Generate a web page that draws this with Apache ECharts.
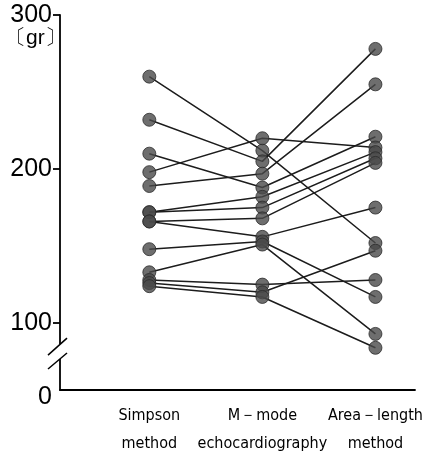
<!DOCTYPE html>
<html>
<head>
<meta charset="utf-8">
<script src="https://cdn.jsdelivr.net/npm/echarts@6/dist/echarts.min.js"></script>
<style>
  html, body { margin: 0; padding: 0; background: #fff; }
  #main { width: 439px; height: 464px; }
</style>
</head>
<body>
<div id="main"></div>
<script>
// methods on the x axis, one polyline per subject
const methods = ["Simpson\nmethod", "M\uFF0Dmode\nechocardiography", "Area\uFF0Dlength\nmethod"];
const yTicks = [100, 200, 300];

// LV mass (gr) per subject
const simpson    = [260, 232, 210, 198, 189, 172, 172, 166, 166, 148, 133, 128, 126, 124];
const mMode      = [212, 205, 188, 220, 197, 182, 175, 168, 156, 153, 151, 125, 120, 117];
const areaLength = [152, 278, 221, 214, 255, 211, 207, 204, 175, 117,  93, 128, 147,  84];

const yMin = 56.6; // bottom of the axis, shown as "0" (axis is broken)
const narrow = "'Liberation Sans Narrow', 'DejaVu Sans Condensed', sans-serif";
const plain = "'Liberation Sans', Arial, sans-serif";

let myChart = echarts.init(document.getElementById("main"));

let series = [];
let dots = [];
for (let i = 0; i < simpson.length; i++) {
  let pts = [[1, simpson[i]], [2, mMode[i]], [3, areaLength[i]]];
  series.push({
    type: "line",
    data: pts,
    symbol: "none",
    silent: true,
    lineStyle: { color: "#1c1c1c", width: 1.5 },
    z: 2,
  });
  dots = dots.concat(pts);
}
series.push({
  type: "scatter",
  data: dots,
  symbolSize: 13,
  itemStyle: { color: "#4a4a4a", borderColor: "#2b2b2b", borderWidth: 1 },
  z: 5,
});

let option = {
  animation: false,
  grid: { left: 60, right: 24, top: 15, bottom: 74 },
  xAxis: {
    type: "value",
    min: 0.21,
    max: 3.35,
    splitLine: { show: false },
    axisTick: { show: false },
    axisLine: { lineStyle: { color: "#000", width: 1.8 } },
    axisLabel: {
      customValues: [1, 2, 3],
      formatter: (v) => methods[Math.round(v) - 1],
      color: "#000",
      fontFamily: narrow,
      fontSize: 16,
      lineHeight: 28,
      margin: 12,
    },
  },
  yAxis: {
    type: "value",
    min: yMin,
    max: 300,
    splitLine: { show: false },
    axisLine: { show: true, lineStyle: { color: "#000", width: 1.8 } },
    axisTick: { show: true, customValues: yTicks, length: 7, lineStyle: { color: "#000", width: 1.8 } },
    axisLabel: {
      customValues: [yMin].concat(yTicks),
      formatter: (v) => (v < 100 ? "{z|0}" : String(v)),
      color: "#000",
      fontFamily: plain,
      fontSize: 25,
      margin: 8,
      rich: { z: { fontSize: 25, padding: [15, 0, 0, 0], fontFamily: plain } },
    },
  },
  series: series,
};
myChart.setOption(option);

// unit label and the axis break mark
let pTop = myChart.convertToPixel({ gridIndex: 0 }, [0.21, 300]);
let pHi = myChart.convertToPixel({ gridIndex: 0 }, [0.21, 86.4]);
let pLo = myChart.convertToPixel({ gridIndex: 0 }, [0.21, 76.7]);
myChart.setOption({
  graphic: [
    {
      type: "text",
      left: 5,
      top: pTop[1] + 13,
      style: { text: "\u3014gr\u3015", font: "21px " + plain, fill: "#000" },
    },
    {
      type: "rect",
      shape: { x: pHi[0] - 4, y: pHi[1], width: 8, height: pLo[1] - pHi[1] },
      style: { fill: "#fff" },
      z: 10,
    },
    {
      type: "line",
      shape: { x1: pHi[0] - 12, y1: pHi[1] + 11, x2: pHi[0] + 7, y2: pHi[1] - 6 },
      style: { stroke: "#000", lineWidth: 1.5 },
      z: 11,
    },
    {
      type: "line",
      shape: { x1: pLo[0] - 12, y1: pLo[1] + 10, x2: pLo[0] + 7, y2: pLo[1] - 6 },
      style: { stroke: "#000", lineWidth: 1.5 },
      z: 11,
    },
  ],
});
window.addEventListener("resize", () => {
  myChart.resize();
});
</script>
</body>
</html>
